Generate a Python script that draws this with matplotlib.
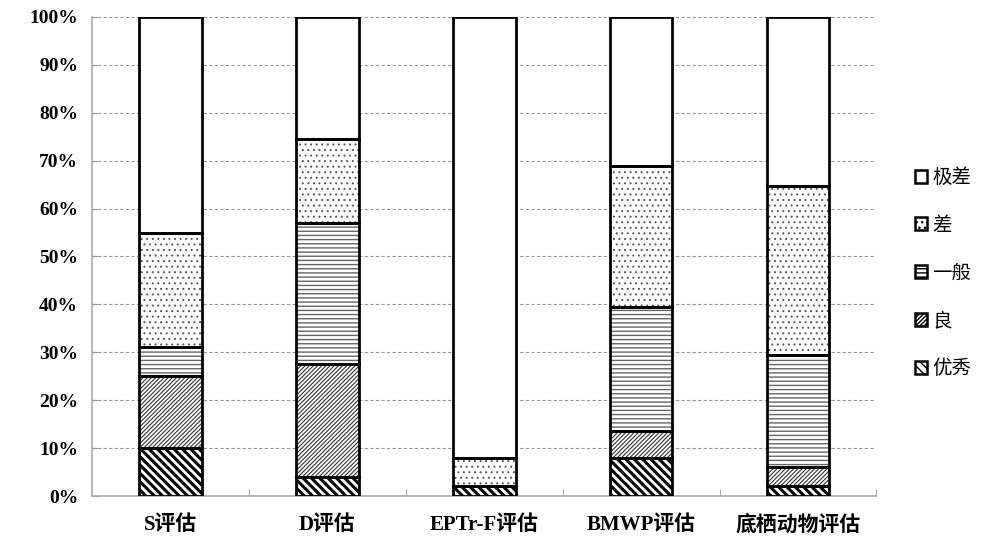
import matplotlib
matplotlib.use('Agg')
import matplotlib.pyplot as plt
import numpy as np

categories = ['S评估', 'D评估', 'EPTr-F评估', 'BMWP评估', '底栖动物评估']
levels = ['优秀', '良', '一般', '差', '极差']
youxiu = [10, 4, 2, 8, 2]
liang = [15, 23.5, 0, 5.5, 4]
yiban = [6, 29.5, 0, 26, 23.5]
cha = [24, 17.5, 6, 29.3, 35.2]
jicha = [45, 25.5, 92, 31.2, 35.3]
yticks = [0, 10, 20, 30, 40, 50, 60, 70, 80, 90, 100]

series = [youxiu, liang, yiban, cha, jicha]
hatches = ['\\\\\\\\', '////////', '----', '...', '']
hatch_lw = [2.2, 0.8, 1.0, 0.7, 1.0]
hatch_col = ['black', '#333333', '#666666', '#555555', 'black']

fig = plt.figure(figsize=(9.86, 5.45), dpi=100)
ax = fig.add_axes([0.0933, 0.0899, 0.7956, 0.879])

x = np.arange(len(categories))
w = 0.40
bottom = np.zeros(len(categories))
handles = []
for i, vals in enumerate(series):
    vals = np.array(vals, dtype=float)
    with plt.rc_context({'hatch.linewidth': hatch_lw[i]}):
        ax.bar(x, vals, w, bottom=bottom, color='white', edgecolor=hatch_col[i],
               hatch=hatches[i], linewidth=0, zorder=3)
        ax.bar(x, vals, w, bottom=bottom, color='none', edgecolor='black',
               linewidth=2, zorder=4)
        # legend proxy
        p = plt.Rectangle((0, 0), 1, 1, facecolor='white', edgecolor='black',
                          hatch=hatches[i], linewidth=1.8)
    handles.append(p)
    bottom += vals

ax.set_xlim(-0.5, len(categories) - 0.5)
ax.set_ylim(0, 100)
ax.set_yticks(yticks)
ax.set_yticklabels([f'{v}%' for v in yticks], fontfamily='Liberation Serif',
                   fontweight='bold', fontsize=14)
ax.set_xticks(x)
ax.set_xticklabels(categories, fontfamily=['Liberation Serif', 'Noto Sans CJK SC'],
                   fontweight='bold', fontsize=15)
ax.set_xticks(np.arange(len(categories) + 1) - 0.5, minor=True)
ax.tick_params(axis='x', which='major', length=0, pad=14)
ax.tick_params(axis='x', which='minor', length=5, direction='in', color='#999999')
ax.tick_params(axis='y', length=4, direction='in', color='#999999', pad=10)

ax.grid(axis='y', linestyle=(0, (3, 2)), color='#999999', linewidth=0.8, zorder=0)
for s in ['top', 'right']:
    ax.spines[s].set_visible(False)
for s in ['left', 'bottom']:
    ax.spines[s].set_color('#aaaaaa')
    ax.spines[s].set_linewidth(1.2)

leg = fig.legend(handles[::-1], levels[::-1], loc='center left',
                 bbox_to_anchor=(0.91, 0.499), frameon=False,
                 prop={'family': 'Noto Sans CJK SC', 'size': 14},
                 handlelength=0.65, handleheight=0.65, handletextpad=0.25,
                 labelspacing=1.38)

fig.savefig('out.png', dpi=100)
